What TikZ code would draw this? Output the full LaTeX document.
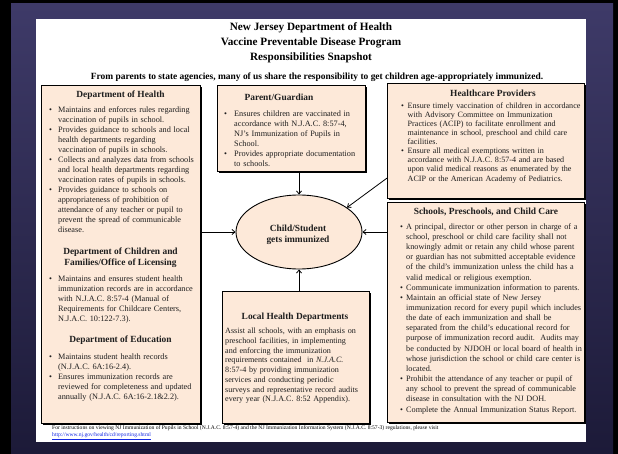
\documentclass[tikz,border=0pt]{standalone}
\usepackage{fontspec}
\setmainfont{Liberation Serif}
\usetikzlibrary{arrows.meta,calc,shapes.geometric,shadows}
\definecolor{peach}{HTML}{FDE9D9}
\definecolor{slidetop}{RGB}{62,58,104}
\definecolor{slidebot}{RGB}{28,26,56}
\definecolor{linkblue}{RGB}{20,40,230}
\definecolor{inktext}{RGB}{30,30,30}
\newlength\bulind
\setlength\bulind{9pt}
% hand-set line break that stays inside the paragraph (keeps the hanging indent)
\newcommand{\lnbrk}{\newline}
% bullet item with hanging indent
\newcommand{\bitem}{\par\noindent\hangindent=\bulind\hangafter=1\makebox[\bulind][l]{\textbullet}}
\tikzset{
  box/.style={draw=black, line width=1.1pt, fill=peach, anchor=north west, inner sep=0pt,
    drop shadow={shadow xshift=1.6pt, shadow yshift=-1.6pt, opacity=1, fill=black}},
  head/.style={font=\fontsize{9.4}{11}\selectfont\bfseries, align=center, inner sep=0pt, text=inktext},
  body/.style={anchor=north west, inner sep=0pt, text width=230pt, text=inktext},
  title/.style={font=\fontsize{11.2}{13}\selectfont\bfseries, inner sep=0pt},
  foot/.style={font=\fontsize{5.6}{6}\selectfont, inner sep=0pt, anchor=west},
  arr/.style={-{Straight Barb[length=3pt,width=5pt]}, line width=0.8pt},
}
\begin{document}
\begin{tikzpicture}[x=1pt,y=1pt]
\useasboundingbox (0,0) rectangle (618,-454);
% slide frame and page
\fill[black] (0,0) rectangle (618,-454);
\shade[top color=slidetop, bottom color=slidebot] (11,-4) rectangle (613,-454);
\fill[white] (36,-19) rectangle (586,-442);

% heading block
\node[title] (t1) at (311,-28) {New Jersey Department of Health};
\node[title] (t2) at (311,-43) {Vaccine Preventable Disease Program};
\node[title] (t3) at (311,-58) {Responsibilities Snapshot};
\node[font=\fontsize{9.45}{10}\selectfont\bfseries, inner sep=0pt] (sub) at (317,-77)
  {From parents to state agencies, many of us share the responsibility to get children age-appropriately immunized.};

% boxes
\node[box, minimum width=159pt, minimum height=338pt] (doh) at (41,-85) {};
\node[box, minimum width=148pt, minimum height=86pt] (parent) at (217,-85) {};
\node[box, minimum width=197pt, minimum height=115pt] (hcp) at (387,-83) {};
\node[box, minimum width=197pt, minimum height=220pt] (school) at (387,-202) {};
\node[box, minimum width=147pt, minimum height=132pt] (lhd) at (222,-291) {};
\node[ellipse, draw=black, line width=0.9pt, fill=peach, minimum width=126pt, minimum height=74pt,
      inner sep=0pt] (child) at (299,-232) {};
\node[head] (childtxt) at (298,-235) {Child/Student\\gets immunized};

% Department of Health column
\node[head] (dohh) at (120.5,-95) {Department of Health};
\node[body, font=\fontsize{8.25}{10}\selectfont] (dohb) at (49,-102) {\raggedright
\bitem Maintains and enforces rules regarding\lnbrk vaccination of pupils in school.
\bitem Provides guidance to schools and local\lnbrk health departments regarding\lnbrk vaccination of pupils in schools.
\bitem Collects and analyzes data from schools\lnbrk and local health departments regarding\lnbrk vaccination rates of pupils in schools.
\bitem Provides guidance to schools on\lnbrk appropriateness of prohibition of\lnbrk attendance of any teacher or pupil to\lnbrk prevent the spread of communicable\lnbrk disease.\par};
\node[head] (dcfh) at (120.5,-257.5) {Department of Children and\\Families/Office of Licensing};
\node[body, font=\fontsize{8.25}{10}\selectfont] (dcfb) at (49,-271) {\raggedright
\bitem Maintains and ensures student health\lnbrk immunization records are in accordance\lnbrk with N.J.A.C. 8:57-4 (Manual of\lnbrk Requirements for Childcare Centers,\lnbrk N.J.A.C. 10:122-7.3).\par};
\node[head] (doeh) at (120.5,-340) {Department of Education};
\node[body, font=\fontsize{8.25}{10}\selectfont] (doeb) at (49,-349) {\raggedright
\bitem Maintains student health records\lnbrk (N.J.A.C. 6A:16-2.4).
\bitem Ensures immunization records are\lnbrk reviewed for completeness and updated\lnbrk annually (N.J.A.C. 6A:16-2.1\&2.2).\par};

% Parent/Guardian
\node[head] (parh) at (279,-97) {Parent/Guardian};
\node[body, font=\fontsize{8.25}{10}\selectfont] (parb) at (224,-106) {\raggedright\setlength\bulind{10pt}%
\bitem Ensures children are vaccinated in\lnbrk accordance with N.J.A.C. 8:57-4,\lnbrk NJ’s Immunization of Pupils in\lnbrk School.
\bitem Provides appropriate documentation\lnbrk to schools.\par};

% Healthcare Providers
\node[head] (hcph) at (493,-93) {Healthcare Providers};
\node[body, font=\fontsize{8.1}{9.1}\selectfont] (hcpb) at (401,-99) {\raggedright\setlength\bulind{6.5pt}%
\bitem Ensure timely vaccination of children in accordance\lnbrk with Advisory Committee on Immunization\lnbrk Practices (ACIP) to facilitate enrollment and\lnbrk maintenance in school, preschool and child care\lnbrk facilities.
\bitem Ensure all medical exemptions written in\lnbrk accordance with N.J.A.C. 8:57-4 and are based\lnbrk upon valid medical reasons as enumerated by the\lnbrk ACIP or the American Academy of Pediatrics.\par};

% Schools, Preschools, and Child Care
\node[head] (schh) at (486,-212) {Schools, Preschools, and Child Care};
\node[body, font=\fontsize{8.2}{10.15}\selectfont] (schb) at (400,-219) {\raggedright\setlength\bulind{6pt}%
\bitem A principal, director or other person in charge of a\lnbrk school, preschool or child care facility shall not\lnbrk knowingly admit or retain any child whose parent\lnbrk or guardian has not submitted acceptable evidence\lnbrk of the child’s immunization unless the child has a\lnbrk valid medical or religious exemption.
\bitem Communicate immunization information to parents.
\bitem Maintain an official state of New Jersey\lnbrk immunization record for every pupil which includes\lnbrk the date of each immunization and shall be\lnbrk separated from the child’s educational record for\lnbrk purpose of immunization record audit.\ \ Audits may\lnbrk be conducted by NJDOH or local board of health in\lnbrk whose jurisdiction the school or child care center is\lnbrk located.
\bitem Prohibit the attendance of any teacher or pupil of\lnbrk any school to prevent the spread of communicable\lnbrk disease in consultation with the NJ DOH.
\bitem Complete the Annual Immunization Status Report.\par};

% Local Health Departments
\node[head] (lhdh) at (295,-317) {Local Health Departments};
\node[body, font=\fontsize{8.1}{9.7}\selectfont] (lhdb) at (225,-328) {\raggedright
Assist all schools, with an emphasis on\lnbrk preschool facilities, in implementing\lnbrk and enforcing the immunization\lnbrk requirements contained\ \ in \textit{N.J.A.C.}\lnbrk 8:57-4 by providing immunization\lnbrk services and conducting periodic\lnbrk surveys and representative record audits\lnbrk every year (N.J.A.C. 8:52 Appendix).\par};

% connectors into the centre ellipse
\coordinate (hcpfoot) at ($(hcp.south west)+(0,21)$);
\draw[arr] (child.north |- parent.south) -- (child.north);
\draw[arr] (child.south |- lhd.north) -- (child.south);
\draw[arr] (doh.east |- child.west) -- (child.west);
\draw[arr] (school.west |- child.east) -- (child.east);
\draw[arr] (hcpfoot) -- (child.27);

% footnote
\node[foot] (f1) at (52,-428) {For instructions on viewing NJ Immunization of Pupils in School (N.J.A.C. 8:57-4) and the NJ Immunization Information System (N.J.A.C. 8:57-3) regulations, please visit};
\node[foot, text=linkblue] (f2) at (52,-436) {\underline{http://www.nj.gov/health/cd/reporting.shtml}};
\end{tikzpicture}
\end{document}
